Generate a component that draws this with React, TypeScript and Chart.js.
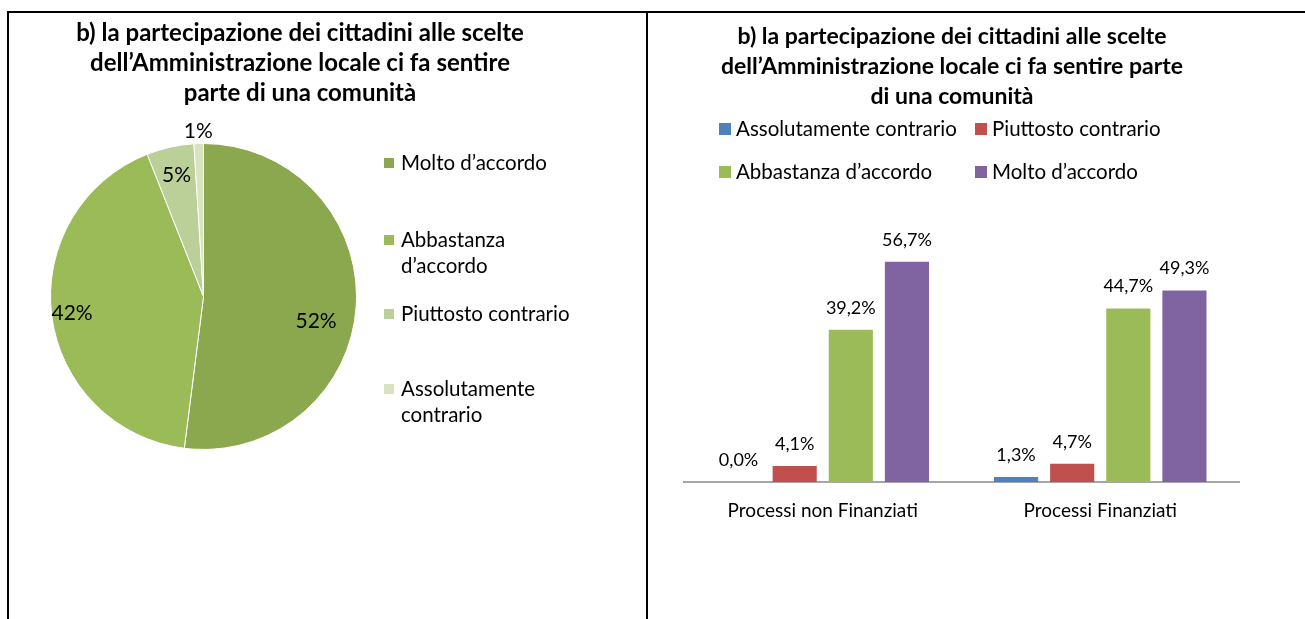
import React, { useEffect, useRef } from "react";
import { Chart, registerables } from "chart.js";

Chart.register(...registerables);

const FONT = "Lato, 'Open Sans', sans-serif";

// ---------- Pie chart data ----------
const pieTitle = [
  "b) la partecipazione dei cittadini alle scelte",
  "dell’Amministrazione locale ci fa sentire",
  "parte di una comunità",
];
const pieCategories = ["Molto d’accordo", "Abbastanza d’accordo", "Piuttosto contrario", "Assolutamente contrario"];
const pieLegendLines = [["Molto d’accordo"], ["Abbastanza", "d’accordo"], ["Piuttosto contrario"], ["Assolutamente", "contrario"]];
const pieValues = [52, 42, 5, 1];
const pieColors = ["#8BA84F", "#9BBB59", "#BBCF98", "#D7E4BD"];

// ---------- Bar chart data ----------
const barTitle = [
  "b) la partecipazione dei cittadini alle scelte",
  "dell’Amministrazione locale ci fa sentire parte",
  "di una comunità",
];
const barCategories = ["Processi non Finanziati", "Processi Finanziati"];
const seriesNames = ["Assolutamente contrario", "Piuttosto contrario", "Abbastanza d’accordo", "Molto d’accordo"];
const assolutamenteContrario = [0.0, 1.3];
const piuttostoContrario = [4.1, 4.7];
const abbastanzaAccordo = [39.2, 44.7];
const moltoAccordo = [56.7, 49.3];
const barColors = ["#4F81BD", "#C0504D", "#9BBB59", "#8064A2"];

// label placement around pie (radial factor, angle shift in degrees)
const pieLabelRadius = [0.754, 0.866, 0.81, 1.083];
const pieLabelShift = [9, 0, 0, 0];

function PieChart() {
  const ref = useRef<HTMLCanvasElement | null>(null);
  useEffect(() => {
    const canvas = ref.current!;
    const piePlugin = {
      id: "pieExtras",
      afterDraw(chart: any) {
        const ctx = chart.ctx;
        ctx.save();
        ctx.fillStyle = "#000";
        ctx.textBaseline = "middle";
        // title
        ctx.textAlign = "center";
        ctx.font = `bold 24px ${FONT}`;
        pieTitle.forEach((t, i) => ctx.fillText(t, 292, 20 + i * 30));
        // slice labels
        ctx.font = `21px ${FONT}`;
        const meta = chart.getDatasetMeta(0);
        meta.data.forEach((arc: any, i: number) => {
          const mid = (arc.startAngle + arc.endAngle) / 2 + (pieLabelShift[i] * Math.PI) / 180;
          const r = arc.outerRadius * pieLabelRadius[i];
          ctx.fillText(`${pieValues[i]}%`, arc.x + Math.cos(mid) * r, arc.y + Math.sin(mid) * r);
        });
        // legend
        ctx.textAlign = "left";
        ctx.font = `20.5px ${FONT}`;
        const rows = [150, 227, 301, 376];
        pieLegendLines.forEach((lines, i) => {
          ctx.fillStyle = pieColors[i];
          ctx.fillRect(376, rows[i] - 5, 10, 10);
          ctx.fillStyle = "#000";
          lines.forEach((l, j) => ctx.fillText(l, 393, rows[i] + j * 26));
        });
        ctx.restore();
      },
    };
    const chart = new Chart(canvas, {
      type: "pie",
      data: {
        labels: pieCategories,
        datasets: [
          {
            data: pieValues,
            backgroundColor: pieColors,
            borderColor: "#FFFFFF",
            borderWidth: 1,
          },
        ],
      },
      options: {
        responsive: false,
        animation: false,
        layout: { padding: { left: 42, top: 130, right: 288, bottom: 169 } },
        plugins: {
          legend: { display: false },
          title: { display: false },
          tooltip: { enabled: false },
        },
      },
      plugins: [piePlugin],
    });
    return () => chart.destroy();
  }, []);
  return <canvas ref={ref} width={637} height={606} style={{ position: "absolute", left: 8, top: 13 }} />;
}

function BarChart() {
  const ref = useRef<HTMLCanvasElement | null>(null);
  useEffect(() => {
    const canvas = ref.current!;
    const barPlugin = {
      id: "barExtras",
      afterDraw(chart: any) {
        const ctx = chart.ctx;
        ctx.save();
        ctx.fillStyle = "#000";
        ctx.textBaseline = "middle";
        ctx.textAlign = "center";
        ctx.font = `bold 23px ${FONT}`;
        barTitle.forEach((t, i) => ctx.fillText(t, 304, 24 + i * 30));
        // legend
        ctx.textAlign = "left";
        ctx.font = `20.5px ${FONT}`;
        const cols = [71, 327];
        const rowsY = [116, 159];
        seriesNames.forEach((n, i) => {
          const cx = cols[i % 2];
          const cy = rowsY[Math.floor(i / 2)];
          ctx.fillStyle = barColors[i];
          ctx.fillRect(cx, cy - 6, 12, 12);
          ctx.fillStyle = "#000";
          ctx.fillText(n, cx + 17, cy);
        });
        // value labels
        ctx.textAlign = "center";
        ctx.font = `18px ${FONT}`;
        chart.data.datasets.forEach((ds: any, di: number) => {
          const meta = chart.getDatasetMeta(di);
          meta.data.forEach((bar: any, i: number) => {
            const v = ds.data[i] as number;
            ctx.fillText(v.toFixed(1).replace(".", ",") + "%", bar.x, bar.y - 22);
          });
        });
        ctx.restore();
      },
    };
    const series = [assolutamenteContrario, piuttostoContrario, abbastanzaAccordo, moltoAccordo];
    const chart = new Chart(canvas, {
      type: "bar",
      data: {
        labels: barCategories,
        datasets: series.map((d, i) => ({
          label: seriesNames[i],
          data: d,
          backgroundColor: barColors[i],
          categoryPercentage: 0.809,
          barPercentage: 0.786,
        })),
      },
      options: {
        responsive: false,
        animation: false,
        layout: { padding: { left: 36, top: 236, right: 66, bottom: 77 } },
        scales: {
          x: {
            grid: { display: false, drawTicks: false },
            border: { display: true, color: "#A6A6A6", width: 2 },
            ticks: { color: "#000", font: { family: FONT, size: 19 }, padding: 17 },
            afterFit: (s: any) => {
              s.height = 60;
            },
          },
          y: { display: false, min: 0, max: 60 },
        },
        plugins: {
          legend: { display: false },
          title: { display: false },
          tooltip: { enabled: false },
        },
      },
      plugins: [barPlugin],
    });
    return () => chart.destroy();
  }, []);
  return <canvas ref={ref} width={657} height={606} style={{ position: "absolute", left: 648, top: 13 }} />;
}

export default function App() {
  return (
    <div
      style={{
        position: "absolute",
        left: 0,
        top: 0,
        width: 1305,
        height: 619,
        background: "#fff",
        overflow: "hidden",
        fontFamily: FONT,
      }}
    >
      <div style={{ position: "absolute", left: 7, top: 11, width: 1298, height: 2, background: "#000" }} />
      <div style={{ position: "absolute", left: 7, top: 11, width: 2, height: 608, background: "#000" }} />
      <div style={{ position: "absolute", left: 646, top: 11, width: 2, height: 608, background: "#000" }} />
      <PieChart />
      <BarChart />
    </div>
  );
}
